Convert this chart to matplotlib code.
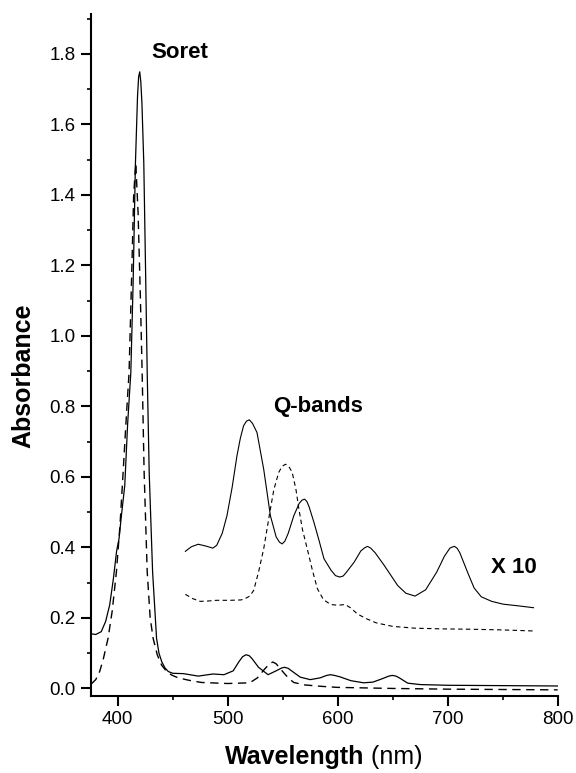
import matplotlib
matplotlib.use("Agg")
import matplotlib.pyplot as plt
from matplotlib.ticker import MultipleLocator

plt.rcParams['font.family'] = ['Liberation Sans', 'DejaVu Sans']

# Solid spectrum (1x)
solid_x = [376, 380, 385, 389, 392.7, 396, 399, 401.2, 403, 406.4, 409, 411.9, 414, 416.1,
           418, 419, 420, 421, 422, 423.7, 425.5, 426.8, 428.6, 431.7, 435.3, 437.5, 440,
           443, 446, 450, 459.8, 473.2, 486.5, 496.6, 505, 510, 513.5, 516.6, 519.5, 522,
           528, 536.7, 544, 549, 551.7, 555, 558, 566, 575, 584, 590, 593.5, 597, 602, 612,
           623.6, 632, 640, 646.5, 649.6, 653, 656, 663.7, 675, 700, 750, 800]
solid_y = [0.155, 0.153, 0.161, 0.19, 0.237, 0.31, 0.39, 0.425, 0.48, 0.576, 0.75, 0.896,
           1.15, 1.49, 1.68, 1.735, 1.749, 1.72, 1.66, 1.49, 1.15, 0.896, 0.613, 0.331,
           0.142, 0.10, 0.076, 0.058, 0.048, 0.043, 0.042, 0.035, 0.041, 0.039, 0.05,
           0.075, 0.09, 0.0955, 0.093, 0.085, 0.06, 0.039, 0.05, 0.058, 0.060, 0.057,
           0.05, 0.032, 0.025, 0.03, 0.037, 0.039, 0.037, 0.033, 0.022, 0.016, 0.018,
           0.027, 0.035, 0.037, 0.035, 0.03, 0.015, 0.011, 0.009, 0.008, 0.007]

# Dashed spectrum (1x)
dash_x = [376, 380, 383.6, 387, 391.2, 395, 398.8, 402, 404.9, 408, 410.3, 412.5, 414.5,
          416.4, 418.5, 420.5, 422.2, 424, 426.8, 429.5, 432.2, 436, 439.9, 444, 449, 455,
          465, 476, 500, 520, 527, 533, 538, 541, 544, 548, 555, 560, 570, 585, 600, 650,
          700, 800]
dash_y = [0.013, 0.025, 0.048, 0.085, 0.142, 0.22, 0.331, 0.46, 0.613, 0.78, 0.896, 1.15,
          1.40, 1.49, 1.35, 1.12, 0.896, 0.613, 0.331, 0.2, 0.142, 0.095, 0.066, 0.05,
          0.038, 0.03, 0.023, 0.017, 0.014, 0.016, 0.03, 0.053, 0.07, 0.075, 0.07, 0.055,
          0.03, 0.017, 0.01, 0.006, 0.003, 0.0, -0.002, -0.004]

# Solid Q-band region (x10)
solid10_x = [461.5, 467, 473.2, 480, 486.5, 490, 495, 499.3, 504, 508.4, 511.5, 514.4,
             517, 519.6, 522.5, 526.6, 532.7, 538.8, 544, 547, 549.5, 552, 555, 560.1, 565,
             567.5, 569.9, 572, 574, 578.4, 583, 587.5, 594, 598, 601.8, 605, 608, 614.9,
             621, 624.5, 627.1, 630, 634, 642.3, 654.5, 662, 670.3, 680, 690, 697, 702,
             704, 706.1, 708.5, 711, 718, 724, 730.5, 740, 750.5, 765, 778]
solid10_y = [0.389, 0.402, 0.409, 0.404, 0.398, 0.406, 0.44, 0.49, 0.57, 0.66, 0.71, 0.745,
             0.758, 0.762, 0.752, 0.726, 0.622, 0.49, 0.43, 0.415, 0.41, 0.418, 0.44, 0.49,
             0.525, 0.534, 0.537, 0.53, 0.515, 0.471, 0.42, 0.368, 0.335, 0.32, 0.316,
             0.319, 0.33, 0.358, 0.39, 0.399, 0.403, 0.398, 0.385, 0.349, 0.292, 0.27,
             0.262, 0.28, 0.33, 0.375, 0.398, 0.401, 0.403, 0.398, 0.385, 0.33, 0.285,
             0.26, 0.247, 0.239, 0.234, 0.229]

# Dashed Q-band region (x10)
dash10_x = [461.5, 468, 474.9, 482, 490.1, 502.3, 512, 516, 520, 523.6, 528, 532.7, 538.8,
            542, 546.4, 549.5, 552.5, 555.5, 558.6, 562, 564.7, 568, 572.3, 577, 581.5,
            587, 593.6, 600, 606.8, 612, 618, 626, 635, 650, 670, 693.7, 720, 750, 778]
dash10_y = [0.267, 0.255, 0.247, 0.248, 0.25, 0.25, 0.251, 0.255, 0.262, 0.278, 0.33,
            0.396, 0.509, 0.565, 0.613, 0.63, 0.636, 0.63, 0.613, 0.565, 0.509, 0.45,
            0.396, 0.335, 0.283, 0.252, 0.238, 0.236, 0.238, 0.228, 0.211, 0.198, 0.186,
            0.176, 0.171, 0.169, 0.168, 0.166, 0.163]

x_ticks = [400, 500, 600, 700, 800]
y_ticks = [0.0, 0.2, 0.4, 0.6, 0.8, 1.0, 1.2, 1.4, 1.6, 1.8]

W, H = 576, 773
fig = plt.figure(figsize=(W / 100, H / 100), dpi=100)
ax = fig.add_axes([91 / W, 1 - 695.5 / H, (557.7 - 91) / W, (695.5 - 14) / H])

ax.plot(solid_x, solid_y, color='black', lw=0.9, solid_joinstyle='round')
ax.plot(dash_x, dash_y, color='black', lw=1.0, ls=(0, (6, 4)))
ax.plot(solid10_x, solid10_y, color='black', lw=0.8, solid_joinstyle='round')
ax.plot(dash10_x, dash10_y, color='black', lw=0.8, ls=(0, (4, 3)))

ax.set_xlim(375.7, 800)
ax.set_ylim(-0.02, 1.913)
ax.set_xticks(x_ticks)
ax.set_yticks(y_ticks)
ax.set_yticklabels([f"{v:.1f}" for v in y_ticks])
ax.xaxis.set_minor_locator(MultipleLocator(50))
ax.yaxis.set_minor_locator(MultipleLocator(0.1))

for s in ['top', 'right']:
    ax.spines[s].set_visible(False)
for s in ['left', 'bottom']:
    ax.spines[s].set_linewidth(1.5)
ax.tick_params(which='major', direction='out', length=7, width=1.5, labelsize=13.5, pad=4)
ax.tick_params(which='minor', direction='out', length=3, width=1.2)

ax.text(456.6, 1.803, 'Soret', fontsize=16, fontweight='bold', ha='center', va='center')
ax.text(582, 0.80, 'Q-bands', fontsize=16, fontweight='bold', ha='center', va='center')
ax.text(760, 0.342, 'X 10', fontsize=16, fontweight='bold', ha='center', va='center')

fig.text(23 / W, 1 - 376 / H, 'Absorbance', fontsize=18, fontweight='bold',
         rotation=90, ha='center', va='center')
fig.text(364 / W, 1 - 764 / H, 'Wavelength', fontsize=18, fontweight='bold',
         ha='right', va='baseline')
fig.text(364 / W, 1 - 764 / H, ' (nm)', fontsize=18, ha='left', va='baseline')

fig.savefig('out.png', dpi=100)
